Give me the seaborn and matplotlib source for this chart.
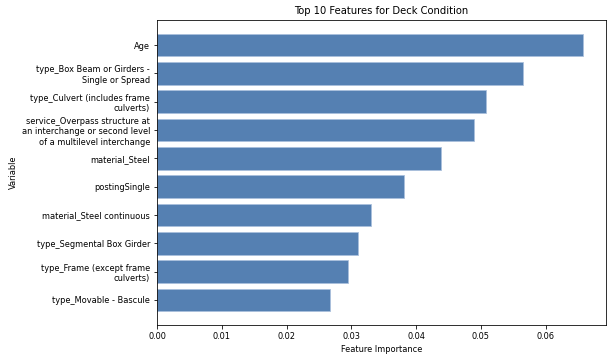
import textwrap
import pandas as pd
import seaborn as sns
import matplotlib
matplotlib.use('Agg')
import matplotlib.pyplot as plt

features = [
    'Age',
    'type_Box Beam or Girders - Single or Spread',
    'type_Culvert (includes frame culverts)',
    'service_Overpass structure at an interchange or second level of a multilevel interchange',
    'material_Steel',
    'postingSingle',
    'material_Steel continuous',
    'type_Segmental Box Girder',
    'type_Frame (except frame culverts)',
    'type_Movable - Bascule',
]
importance = [0.0658, 0.0565, 0.0508, 0.0489, 0.0438, 0.0381, 0.0330, 0.0310, 0.0295, 0.0267]

df = pd.DataFrame({'Variable': [textwrap.fill(f, 30) for f in features],
                   'Feature Importance': importance})

fig = plt.figure(figsize=(8.5, 358 / 72), dpi=72)
ax = fig.add_axes([157 / 612, 1 - 325 / 358, (606 - 157) / 612, (325 - 20) / 358])
sns.barplot(data=df, y='Variable', x='Feature Importance', orient='h',
            color='#5580b2', saturation=1, width=0.8,
            edgecolor='#a9c0dc', linewidth=0.8, ax=ax)
ax.set_ylim(9.89, -0.89)
ax.set_xlim(0, 0.0693)
ax.set_xticks([0, 0.01, 0.02, 0.03, 0.04, 0.05, 0.06])
ax.set_xticklabels(['0.00', '0.01', '0.02', '0.03', '0.04', '0.05', '0.06'])
ax.tick_params(labelsize=8.2, length=3.5)
ax.set_xlabel('Feature Importance', fontsize=8.2)
ax.set_ylabel('Variable', fontsize=8.2)
ax.set_title('Top 10 Features for Deck Condition', fontsize=10)
for s in ax.spines.values():
    s.set_linewidth(0.8)

plt.savefig('out.png', dpi=72)
